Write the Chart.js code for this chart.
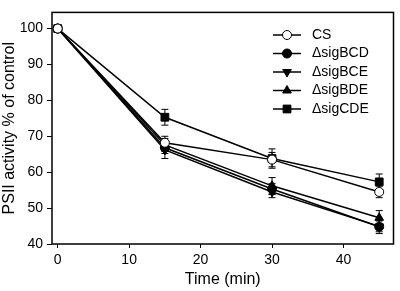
<!DOCTYPE html>
<html>
<head>
<meta charset="utf-8">
<script src="https://cdn.jsdelivr.net/npm/chart.js@4.4.1/dist/chart.umd.min.js"></script>
<style>
  body { margin: 0; background: #fff; }
  canvas { display: block; }
</style>
</head>
<body>
<canvas id="myChart" width="400" height="291"></canvas>
<script>
// values
const times = [0, 15, 30, 45]
const seriesNames = ['CS', 'ΔsigBCD', 'ΔsigBCE', 'ΔsigBDE', 'ΔsigCDE']

const cs = [100, 68.2, 63.5, 54.5]
const sigBCD = [100, 66.8, 55.3, 44.8]
const sigBCE = [100, 66.2, 54.5, 44.9]
const sigBDE = [100, 67.6, 56.2, 47.3]
const sigCDE = [100, 75.3, 63.8, 57.3]

const csErr = [0.4, 1.8, 2.0, 1.6]
const sigBCDErr = [0.4, 1.6, 1.5, 1.9]
const sigBCEErr = [0.4, 2.4, 1.6, 1.5]
const sigBDEErr = [0.4, 1.8, 2.3, 2.0]
const sigCDEErr = [0.4, 2.2, 2.7, 2.2]

const xTicks = [0, 10, 20, 30, 40]
const yTicks = [40, 50, 60, 70, 80, 90, 100]

const FONT = 'Liberation Sans, Arial, sans-serif'

const el = document.getElementById('myChart')

const makeSet = (label, values, errors, style) => ({
    label: label,
    data: times.map((t, i) => ({ x: t, y: values[i] })),
    errors: errors,
    borderColor: '#000',
    borderWidth: 1.5,
    tension: 0,
    clip: false,
    pointStyle: style.pointStyle,
    rotation: style.rotation || 0,
    pointRadius: style.radius,
    pointBackgroundColor: style.fill,
    pointBorderColor: '#000',
    pointBorderWidth: 1
})

const datasets = [
    makeSet(seriesNames[0], cs, csErr, { pointStyle: 'circle', radius: 4.5, fill: '#fff' }),
    makeSet(seriesNames[1], sigBCD, sigBCDErr, { pointStyle: 'circle', radius: 4.5, fill: '#000' }),
    makeSet(seriesNames[2], sigBCE, sigBCEErr, { pointStyle: 'triangle', rotation: 180, radius: 5, fill: '#000' }),
    makeSet(seriesNames[3], sigBDE, sigBDEErr, { pointStyle: 'triangle', radius: 5, fill: '#000' }),
    makeSet(seriesNames[4], sigCDE, sigCDEErr, { pointStyle: 'rect', radius: 5.5, fill: '#000' })
]

// vertical error bars with caps, drawn under the lines
const errorBars = {
    id: 'errorBars',
    beforeDatasetsDraw(chart) {
        const ctx = chart.ctx
        const xs = chart.scales.x
        const ys = chart.scales.y
        ctx.save()
        ctx.strokeStyle = '#000'
        ctx.lineWidth = 1
        chart.data.datasets.forEach(ds => {
            ds.data.forEach((p, i) => {
                const e = ds.errors[i]
                const x = xs.getPixelForValue(p.x)
                const yTop = ys.getPixelForValue(p.y + e)
                const yBot = ys.getPixelForValue(p.y - e)
                ctx.beginPath()
                ctx.moveTo(x, yTop)
                ctx.lineTo(x, yBot)
                ctx.moveTo(x - 3.5, yTop)
                ctx.lineTo(x + 3.5, yTop)
                ctx.moveTo(x - 3.5, yBot)
                ctx.lineTo(x + 3.5, yBot)
                ctx.stroke()
            })
        })
        ctx.restore()
    }
}

// frame round the plot plus the legend inside it
const frameAndLegend = {
    id: 'frameAndLegend',
    afterDraw(chart) {
        const ctx = chart.ctx
        const a = chart.chartArea
        ctx.save()
        ctx.strokeStyle = '#000'
        ctx.lineWidth = 1.5
        ctx.strokeRect(a.left, a.top, a.right - a.left, a.bottom - a.top)

        ctx.font = '14px ' + FONT
        ctx.textBaseline = 'middle'
        ctx.textAlign = 'left'
        chart.data.datasets.forEach((ds, i) => {
            const y = 35 + i * 18.5
            ctx.strokeStyle = '#000'
            ctx.lineWidth = 1.5
            ctx.beginPath()
            ctx.moveTo(273, y)
            ctx.lineTo(301, y)
            ctx.stroke()
            ctx.fillStyle = ds.pointBackgroundColor
            ctx.lineWidth = 1
            Chart.helpers.drawPoint(ctx, {
                pointStyle: ds.pointStyle,
                rotation: ds.rotation,
                radius: ds.pointRadius,
                borderWidth: 1
            }, 287, y)
            ctx.fillStyle = '#000'
            ctx.fillText(ds.label, 312, y)
        })
        ctx.restore()
    }
}

const config = {
    type: 'line',
    data: { datasets: datasets },
    options: {
        responsive: false,
        animation: false,
        layout: { padding: { top: 2, right: 1, left: 0, bottom: 2 } },
        plugins: {
            legend: { display: false },
            tooltip: { enabled: false }
        },
        scales: {
            x: {
                type: 'linear',
                min: -0.8,
                max: 47,
                afterBuildTicks: s => { s.ticks = xTicks.map(v => ({ value: v })) },
                afterFit: s => { s.height = 45 },
                grid: { drawOnChartArea: false, drawTicks: true, tickLength: 4, color: '#000' },
                border: { display: false },
                ticks: { color: '#000', font: { family: FONT, size: 14 }, padding: 4, maxRotation: 0 },
                title: { display: true, text: 'Time (min)', color: '#000', font: { family: FONT, size: 16 }, padding: 0 }
            },
            y: {
                min: 40,
                max: 104.5,
                afterBuildTicks: s => { s.ticks = yTicks.map(v => ({ value: v })) },
                afterFit: s => { s.width = 52 },
                grid: { drawOnChartArea: false, drawTicks: true, tickLength: 5, color: '#000' },
                border: { display: false },
                ticks: { color: '#000', font: { family: FONT, size: 14 }, padding: 4 },
                title: { display: true, text: 'PSII activity % of control', color: '#000', font: { family: FONT, size: 16 }, padding: 0 }
            }
        }
    },
    plugins: [errorBars, frameAndLegend]
}

const myChart = new Chart(el, config)
</script>
</body>
</html>
